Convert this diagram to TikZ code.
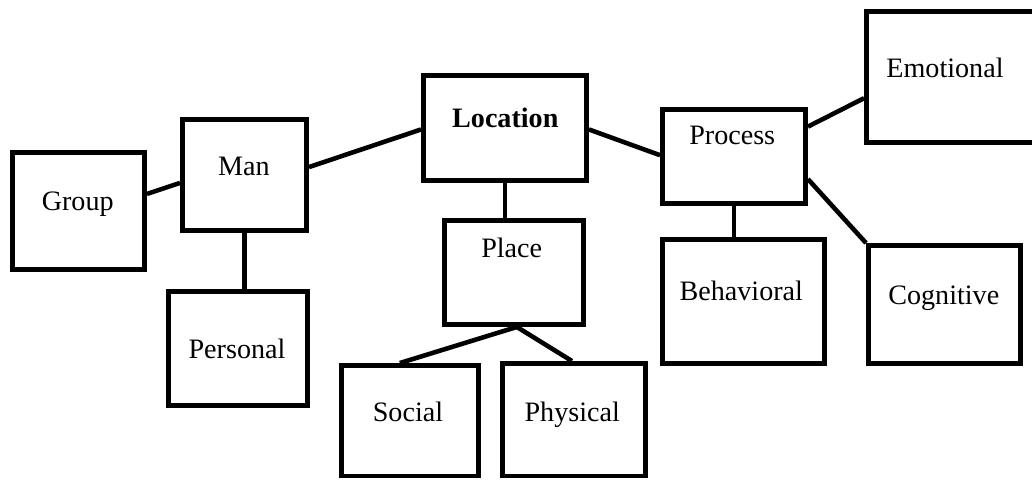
\documentclass[tikz,border=0pt]{standalone}
\usepackage{fontspec}
\setmainfont{Liberation Serif}
\usetikzlibrary{positioning, calc}

\begin{document}
\begin{tikzpicture}[
  cbox/.style={draw, rectangle, line width=2.8pt},
  lbl/.style={anchor=base, inner sep=0pt, font=\fontsize{16}{19}\selectfont},
  link/.style={line width=2.6pt}
]
\clip (0,0) rectangle (20.64,9.58);

% Left branch: Group, Man, Personal
\node[cbox, minimum width=2.64cm, minimum height=2.34cm] (group) at (1.57,5.36) {};
\node[lbl] (grouptxt) at (1.554,5.36) {Group};
\node[cbox, minimum width=2.48cm, minimum height=2.22cm] (man) at (4.89,6.08) {};
\node[lbl] (mantxt) at (4.88,6.06) {Man};
\node[cbox, minimum width=2.78cm, minimum height=2.28cm] (personal) at (4.76,2.61) {};
\node[lbl] (personaltxt) at (4.74,2.42) {Personal};

% Middle branch: Location, Place, Social, Physical
\node[cbox, minimum width=3.26cm, minimum height=2.10cm] (location) at (10.10,7.02) {};
\node[lbl] (locationtxt) at (10.106,7.02) {\textbf{Location}};
\node[cbox, minimum width=2.78cm, minimum height=2.08cm] (place) at (10.28,4.13) {};
\node[lbl] (placetxt) at (10.234,4.42) {Place};
\node[cbox, minimum width=2.74cm, minimum height=2.21cm] (social) at (8.20,1.165) {};
\node[lbl] (socialtxt) at (8.16,1.16) {Social};
\node[cbox, minimum width=2.86cm, minimum height=2.25cm] (physical) at (11.48,1.185) {};
\node[lbl] (physicaltxt) at (11.444,1.16) {Physical};

% Right branch: Process, Behavioral, Emotional, Cognitive
\node[cbox, minimum width=2.86cm, minimum height=1.88cm] (process) at (14.68,6.45) {};
\node[lbl] (processtxt) at (14.644,6.68) {Process};
\node[cbox, minimum width=3.24cm, minimum height=2.48cm] (behavioral) at (14.87,3.55) {};
\node[lbl] (behavioraltxt) at (14.826,3.56) {Behavioral};
\node[cbox, minimum width=3.57cm, minimum height=2.62cm] (emotional) at (19.115,8.04) {};
\node[lbl] (emotionaltxt) at (18.90,8.02) {Emotional};
\node[cbox, minimum width=3.04cm, minimum height=2.36cm] (cognitive) at (18.89,3.49) {};
\node[lbl] (cognitivetxt) at (18.876,3.48) {Cognitive};

% Links
\draw[link] (group.14) -- (man.187);
\draw[link] (man.south) -- (man.south |- personal.north);
\draw[link] (man.7) -- (location.181);
\draw[link] (location.south) -- (location.south |- place.north);
\draw[link] (location.359) -- (process.179);
\draw[link] (place.273) -- (social.100);
\draw[link] (place.273) -- (physical.92);
\draw[link] (process.south) -- (process.south |- behavioral.north);
\draw[link] (process.22) -- (emotional.193);
\draw[link] (process.343) -- (cognitive.north west);
\end{tikzpicture}
\end{document}
